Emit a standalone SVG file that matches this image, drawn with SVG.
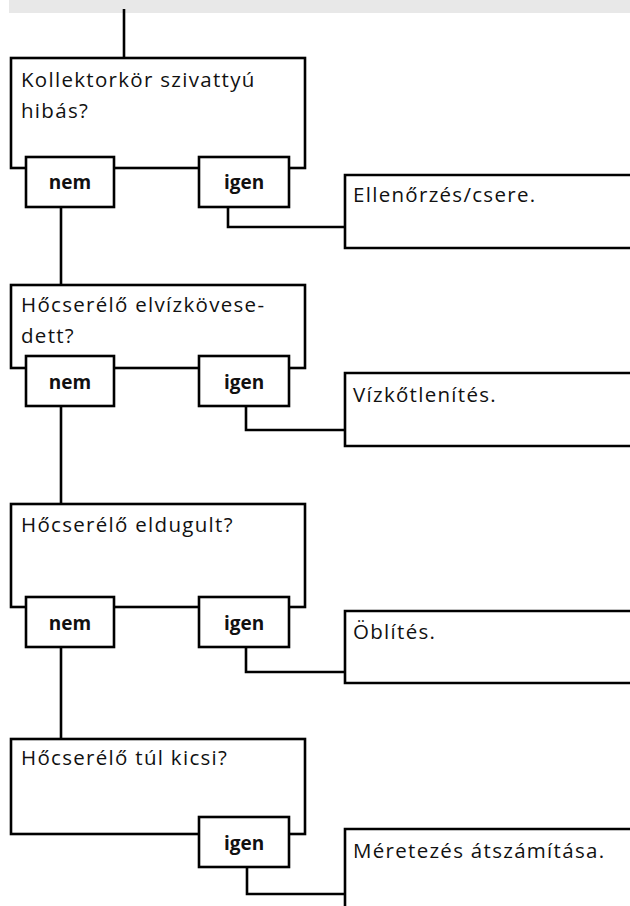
<svg xmlns="http://www.w3.org/2000/svg" width="630" height="906" viewBox="0 0 630 906">
<style>
.box{fill:#fff;stroke:#000;stroke-width:2.6}
.open{fill:#fff;stroke:#000;stroke-width:2.6}
.con{fill:none;stroke:#000;stroke-width:2.6}
.q{font-family:"Open Sans","Liberation Sans",sans-serif;font-size:20.5px;letter-spacing:1.3px;fill:#111}
.lbl{font-family:"Open Sans","Liberation Sans",sans-serif;font-size:19px;font-weight:bold;fill:#111;text-anchor:middle}
</style>
<rect x="9" y="0" width="621" height="13" fill="#e8e8e8"/>
<g id="connectors">
<path class="con" d="M124,9 V58"/>
<path class="con" d="M61,207 V285"/>
<path class="con" d="M228,207 V227 H345"/>
<path class="con" d="M61,406 V504"/>
<path class="con" d="M246,406 V430 H345"/>
<path class="con" d="M61,647 V739"/>
<path class="con" d="M246,647 V672 H345"/>
<path class="con" d="M247,867 V894 H345"/>
</g>
<g id="q1"><rect class="box" x="11" y="58" width="294" height="110"/>
<text class="q" x="21" y="87">Kollektorkör szivattyú</text>
<text class="q" x="21" y="118">hibás?</text></g>
<g id="nem1"><rect class="box" x="26" y="157" width="88" height="50"/><text class="lbl" x="70" y="189">nem</text></g>
<g id="igen1"><rect class="box" x="199" y="157" width="90" height="50"/><text class="lbl" x="244" y="189">igen</text></g>
<g id="r1"><path class="open" d="M631,175 H345 V248 H631"/><text class="q" x="353" y="202">Ellenőrzés/csere.</text></g>

<g id="q2"><rect class="box" x="11" y="285" width="294" height="83"/>
<text class="q" x="21" y="312">Hőcserélő elvízkövese-</text>
<text class="q" x="21" y="343">dett?</text></g>
<g id="nem2"><rect class="box" x="26" y="356" width="88" height="50"/><text class="lbl" x="70" y="389">nem</text></g>
<g id="igen2"><rect class="box" x="199" y="356" width="90" height="50"/><text class="lbl" x="244" y="389">igen</text></g>
<g id="r2"><path class="open" d="M631,373 H345 V446 H631"/><text class="q" x="353" y="402">Vízkőtlenítés.</text></g>

<g id="q3"><rect class="box" x="11" y="504" width="294" height="103"/>
<text class="q" x="21" y="532">Hőcserélő eldugult?</text></g>
<g id="nem3"><rect class="box" x="26" y="597" width="88" height="50"/><text class="lbl" x="70" y="630">nem</text></g>
<g id="igen3"><rect class="box" x="199" y="597" width="90" height="50"/><text class="lbl" x="244" y="630">igen</text></g>
<g id="r3"><path class="open" d="M631,611 H345 V683 H631"/><text class="q" x="353" y="639">Öblítés.</text></g>

<g id="q4"><rect class="box" x="11" y="739" width="294" height="95"/>
<text class="q" x="21" y="765">Hőcserélő túl kicsi?</text></g>
<g id="igen4"><rect class="box" x="199" y="817" width="90" height="50"/><text class="lbl" x="244" y="850">igen</text></g>
<g id="r4"><path class="open" d="M631,829 H345 V907"/><text class="q" x="353" y="858">Méretezés átszámítása.</text></g>
</svg>
